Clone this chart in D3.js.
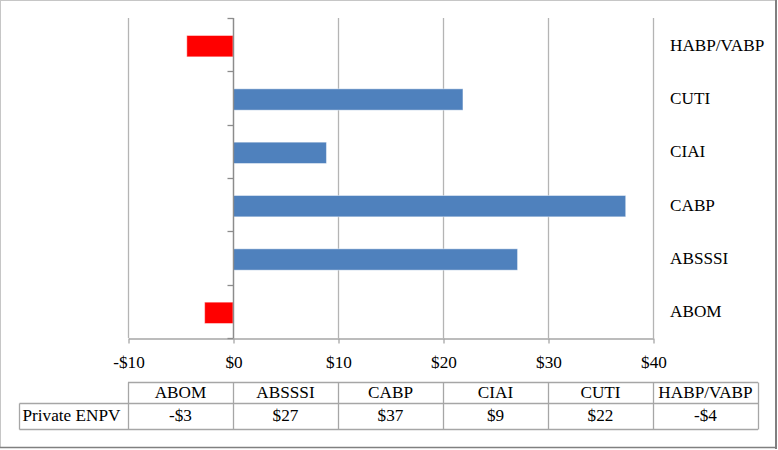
<!DOCTYPE html>
<html>
<head>
<meta charset="utf-8">
<script src="https://cdn.jsdelivr.net/npm/d3@7"></script>
<style>
  body { margin: 0; background: #fff; }
  svg { display: block; }
  text { font-family: "Liberation Serif", "Times New Roman", serif; fill: #000; }
</style>
</head>
<body>
<svg id="chart" width="778" height="450"></svg>
<script>
const categories = ["ABOM", "ABSSSI", "CABP", "CIAI", "CUTI", "HABP/VABP"];
const values = [-2.7, 27.1, 37.4, 8.9, 21.9, -4.4];
const tickValues = [-10, 0, 10, 20, 30, 40];
const tickLabels = ["-$10", "$0", "$10", "$20", "$30", "$40"];
const seriesName = "Private ENPV";

const FS = "17.2px";
const svg = d3.select("#chart");
const plot = { left: 128, right: 653, top: 18, bottom: 338 };

// frame
svg.append("rect").attr("x", 0.5).attr("y", 0.5).attr("width", 775).attr("height", 447)
  .attr("fill", "#fff").attr("stroke", "#8c8c8c").attr("stroke-dasharray", "1,1");
svg.append("line").attr("x1", 776).attr("x2", 776).attr("y1", 0).attr("y2", 449)
  .attr("stroke", "#808080").attr("stroke-width", 2);
svg.append("line").attr("x1", 0).attr("x2", 777).attr("y1", 447.5).attr("y2", 447.5)
  .attr("stroke", "#808080").attr("stroke-width", 1.5);

const x = d3.scaleLinear().domain([-10, 40]).range([plot.left, plot.right]);
const y = d3.scaleBand().domain(categories.slice().reverse()).range([plot.top, plot.bottom])
  .paddingInner(0.6).paddingOuter(0.3);
const yb = d3.scaleBand().domain(categories.slice().reverse()).range([plot.top, plot.bottom]);

// gridlines
svg.append("g").selectAll("line").data(tickValues).join("line")
  .attr("x1", d => Math.round(x(d)) + 0.5).attr("x2", d => Math.round(x(d)) + 0.5)
  .attr("y1", plot.top).attr("y2", plot.bottom)
  .attr("stroke", "#b4b4b4").attr("stroke-width", 1.3);

// bottom axis
const xAxis = svg.append("g").attr("transform", `translate(0.5,${plot.bottom + 0.5})`)
  .call(d3.axisBottom(x).tickValues(tickValues).tickSize(5).tickSizeOuter(0)
    .tickFormat((d, i) => tickLabels[i]));
xAxis.select(".domain").attr("stroke", "#a6a6a6").attr("stroke-width", 1.3);
xAxis.selectAll(".tick line").attr("stroke", "#a6a6a6").attr("stroke-width", 1.3);
xAxis.selectAll(".tick text").attr("y", 17).attr("font-size", FS)
  .style("font-family", "Liberation Serif, serif").attr("fill", "#000");

// bars
svg.append("g").selectAll("rect").data(categories).join("rect")
  .attr("x", (d, i) => x(Math.min(0, values[i])))
  .attr("width", (d, i) => Math.abs(x(values[i]) - x(0)))
  .attr("y", d => y(d) + 1.5)
  .attr("height", y.bandwidth())
  .attr("fill", (d, i) => values[i] < 0 ? "#ff0000" : "#4f81bd")
  .attr("stroke", "rgba(255,255,255,0.45)").attr("stroke-width", 1);

// category axis at zero
const zx = Math.round(x(0)) + 0.5;
svg.append("line").attr("x1", zx).attr("x2", zx).attr("y1", plot.top).attr("y2", plot.bottom)
  .attr("stroke", "#8c8c8c").attr("stroke-width", 1.3);
const bounds = categories.map(c => yb(c)).concat([plot.bottom]);
svg.append("g").selectAll("line").data(bounds).join("line")
  .attr("x1", zx - 6).attr("x2", zx)
  .attr("y1", d => Math.round(d) + 0.5).attr("y2", d => Math.round(d) + 0.5)
  .attr("stroke", "#8c8c8c").attr("stroke-width", 1.3);

// category labels on right
svg.append("g").selectAll("text").data(categories).join("text")
  .attr("x", 670).attr("y", d => yb(d) + yb.bandwidth() / 2 + 2)
  .attr("dominant-baseline", "middle")
  .attr("font-size", FS)
  .text(d => d);

// data table
const tTop = 382.5, tMid = 403.5, tBot = 429.5, labelLeft = 19.5;
const colW = x(10) - x(0);
const colX = categories.map((c, i) => x(-10) + i * colW);
const tableRight = colX[colX.length - 1] + colW;
const tg = svg.append("g").attr("stroke", "#a6a6a6").attr("stroke-width", 1.3);
tg.append("line").attr("x1", x(-10)).attr("x2", tableRight).attr("y1", tTop).attr("y2", tTop);
tg.append("line").attr("x1", labelLeft).attr("x2", tableRight).attr("y1", tMid).attr("y2", tMid);
tg.append("line").attr("x1", labelLeft).attr("x2", tableRight).attr("y1", tBot).attr("y2", tBot);
tg.append("line").attr("x1", labelLeft).attr("x2", labelLeft).attr("y1", tMid).attr("y2", tBot);
tg.selectAll("line.v").data(colX.concat([tableRight])).join("line").attr("class", "v")
  .attr("x1", d => Math.round(d) + 0.5).attr("x2", d => Math.round(d) + 0.5)
  .attr("y1", tTop).attr("y2", tBot);

const fmt = v => (Math.round(v) < 0 ? "-$" : "$") + Math.abs(Math.round(v));
svg.append("g").selectAll("text").data(categories).join("text")
  .attr("x", (d, i) => colX[i] + colW / 2).attr("y", (tTop + tMid) / 2 + 1)
  .attr("text-anchor", "middle").attr("dominant-baseline", "middle")
  .attr("font-size", FS).text(d => d);
svg.append("g").selectAll("text").data(values).join("text")
  .attr("x", (d, i) => colX[i] + colW / 2).attr("y", (tMid + tBot) / 2 + 1)
  .attr("text-anchor", "middle").attr("dominant-baseline", "middle")
  .attr("font-size", FS).text(d => fmt(d));
svg.append("text").attr("x", labelLeft + 3).attr("y", (tMid + tBot) / 2 + 1)
  .attr("dominant-baseline", "middle").attr("font-size", FS).text(seriesName);
</script>
</body>
</html>
